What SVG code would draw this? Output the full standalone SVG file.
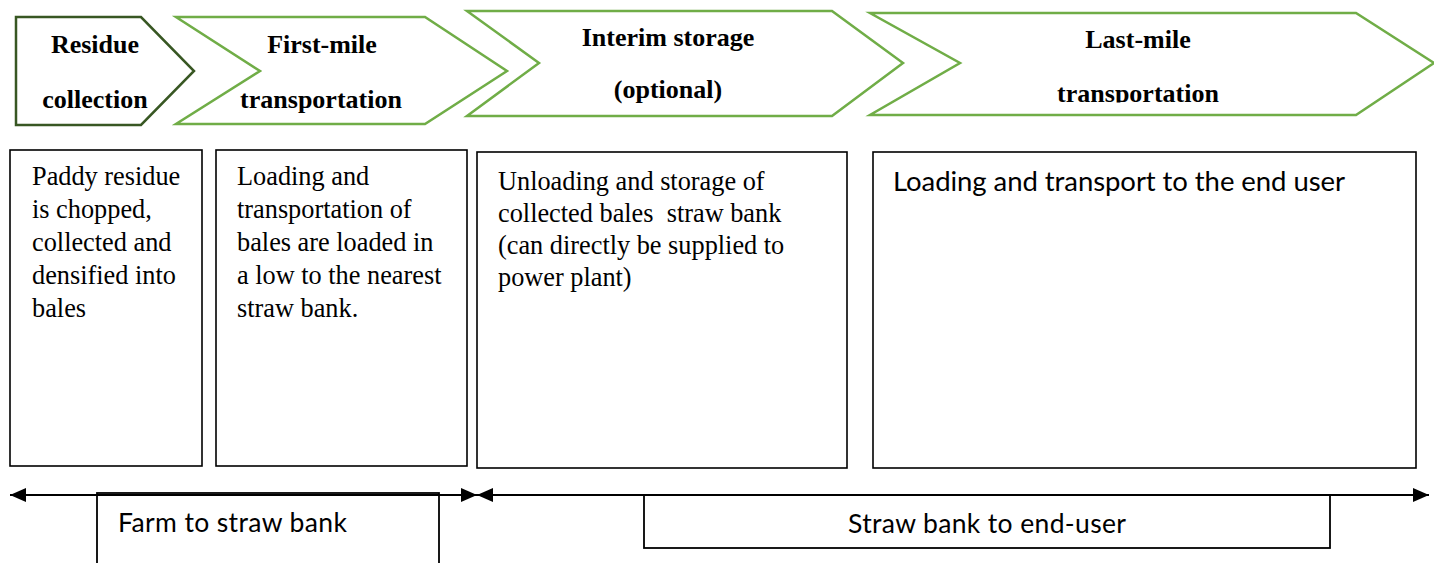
<svg xmlns="http://www.w3.org/2000/svg" width="1434" height="563" viewBox="0 0 1434 563">
  <style>
    .stage { fill: #ffffff; stroke: #70AD47; stroke-width: 2.5; stroke-linejoin: miter; }
    .stage-first { fill: #ffffff; stroke: #385723; stroke-width: 2.5; }
    .title { font-family: "Liberation Serif", "Times New Roman", serif; font-weight: bold; font-size: 26px; fill: #000; text-anchor: middle; }
    .box { fill: #ffffff; stroke: #000; stroke-width: 1.6; }
    .body { font-family: "Liberation Serif", "Times New Roman", serif; font-size: 26.3px; fill: #000; }
    .sans { font-family: Lato, "Open Sans", sans-serif; font-size: 26.5px; fill: #000; }
    .sans-lg { font-family: Lato, "Open Sans", sans-serif; font-size: 27.5px; fill: #000; }
    .span { stroke: #000; stroke-width: 2; fill: none; }
    .label { fill: #ffffff; stroke: #000; stroke-width: 1.8; }
  </style>
  <defs>
    <marker id="head" viewBox="0 0 16 14" refX="16" refY="7" markerWidth="16" markerHeight="14" markerUnits="userSpaceOnUse" orient="auto-start-reverse">
      <path d="M0,0 L16,7 L0,14 Z" fill="#000"/>
    </marker>
    <clipPath id="clip-last">
      <rect x="860" y="0" width="574" height="102.5"/>
    </clipPath>
  </defs>

  <!-- process stages -->
  <g id="stage-residue-collection">
    <polygon class="stage-first" points="16,17 141,17 194,71 141,125 16,125"/>
    <text class="title" x="95" y="53">Residue</text>
    <text class="title" x="95" y="108">collection</text>
  </g>
  <g id="stage-first-mile">
    <polygon class="stage" points="176,17 425,17 507,71 425,124 176,124 260,71"/>
    <text class="title" x="322" y="53">First-mile</text>
    <text class="title" x="321" y="108">transportation</text>
  </g>
  <g id="stage-interim-storage">
    <polygon class="stage" points="467,11 832,11 903,63 832,116 467,116 539,63"/>
    <text class="title" x="668" y="46">Interim storage</text>
    <text class="title" x="668" y="98">(optional)</text>
  </g>
  <g id="stage-last-mile">
    <polygon class="stage" points="870,13 1356,13 1434,63 1356,115 870,115 960,63"/>
    <text class="title" x="1138" y="48">Last-mile</text>
    <text class="title" x="1138" y="102" clip-path="url(#clip-last)">transportation</text>
  </g>

  <!-- stage descriptions -->
  <g id="desc-residue-collection">
    <rect class="box" x="10" y="150" width="192" height="316"/>
    <text class="body" x="32" y="185">Paddy residue</text>
    <text class="body" x="32" y="218">is chopped,</text>
    <text class="body" x="32" y="251">collected and</text>
    <text class="body" x="32" y="284">densified into</text>
    <text class="body" x="32" y="317">bales</text>
  </g>
  <g id="desc-first-mile">
    <rect class="box" x="216" y="150" width="251" height="316"/>
    <text class="body" x="237" y="185">Loading and</text>
    <text class="body" x="237" y="218">transportation of</text>
    <text class="body" x="237" y="251">bales are loaded in</text>
    <text class="body" x="237" y="284">a low to the nearest</text>
    <text class="body" x="237" y="317">straw bank.</text>
  </g>
  <g id="desc-interim-storage">
    <rect class="box" x="477" y="152" width="370" height="316"/>
    <text class="body" x="498" y="190">Unloading and storage of</text>
    <text class="body" x="498" y="222" xml:space="preserve">collected bales  straw bank</text>
    <text class="body" x="498" y="254">(can directly be supplied to</text>
    <text class="body" x="498" y="286">power plant)</text>
  </g>
  <g id="desc-last-mile">
    <rect class="box" x="873" y="152" width="543" height="316"/>
    <text class="sans-lg" x="893" y="191" textLength="452">Loading and transport to the end user</text>
  </g>

  <!-- segment labels -->
  <g id="segment-farm">
    <rect class="label" x="97" y="493" width="342" height="80"/>
    <text class="sans" x="118" y="532" textLength="229">Farm to straw bank</text>
  </g>
  <g id="segment-end-user">
    <rect class="label" x="644" y="495" width="686" height="53"/>
    <text class="sans" x="987" y="533" text-anchor="middle" textLength="278">Straw bank to end-user</text>
  </g>

  <!-- span connectors -->
  <g id="connectors">
    <line class="span" x1="10" y1="495" x2="477" y2="495" marker-start="url(#head)" marker-end="url(#head)"/>
    <line class="span" x1="477" y1="495" x2="1429" y2="495" marker-start="url(#head)" marker-end="url(#head)"/>
  </g>
</svg>
